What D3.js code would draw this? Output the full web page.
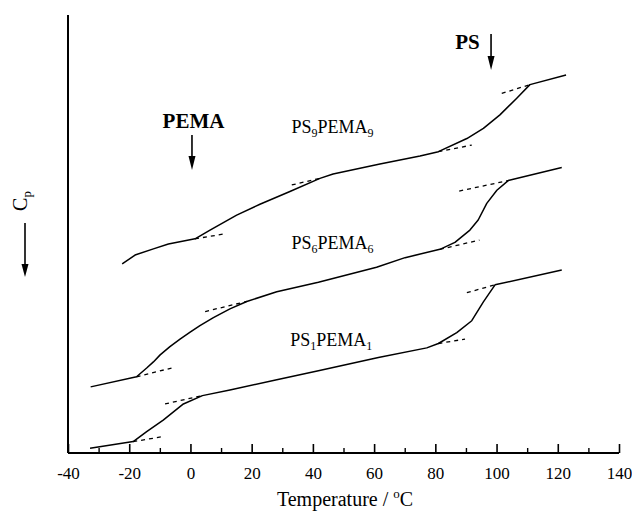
<!DOCTYPE html>
<html>
<head>
<meta charset="utf-8">
<script src="https://cdn.jsdelivr.net/npm/d3@7"></script>
<style>
  body { margin: 0; background: #fff; }
  svg { font-family: "Liberation Serif", "Times New Roman", serif; }
</style>
</head>
<body>
<div id="chart"></div>
<script>
// DSC traces, Cp in arbitrary units (0-100 across the plot height)
const ps9Temp = [-22.3, -18.1, -12.1, -7.2, 1.5, 6.4, 15.1, 22.7, 32.5, 42.3, 46.6, 61.9, 75.0, 81.0, 90.3, 95.7, 101.1, 106.6, 110.9, 122.7];
const ps9Cp   = [43.2, 45.2, 46.6, 47.7, 48.9, 50.9, 54.3, 56.8, 59.7, 62.7, 63.7, 66.0, 67.8, 68.8, 71.8, 74.1, 77.2, 81.0, 84.1, 86.3];

const ps6Temp = [-32.6, -17.6, -14.3, -12.1, -9.9, -6.7, -3.4, -0.1, 3.1, 7.5, 12.9, 18.4, 28.2, 41.8, 60.8, 70.1, 81.5, 86.4, 91.3, 94.0, 96.8, 100.1, 103.8, 121.3];
const ps6Cp   = [15.1, 17.4, 19.4, 20.8, 22.4, 24.3, 26.0, 27.6, 29.1, 30.9, 32.9, 34.6, 36.8, 39.0, 42.4, 44.6, 46.5, 48.1, 50.9, 53.2, 57.0, 60.0, 62.2, 65.2];

const ps1Temp = [-32.8, -18.7, -14.3, -8.9, -2.3, 3.9, 12.9, 28.2, 41.8, 61.4, 77.2, 81.0, 87.0, 91.9, 95.7, 99.5, 121.3];
const ps1Cp   = [1.1, 2.6, 4.9, 7.5, 11.2, 13.1, 14.4, 16.7, 18.8, 21.8, 24.0, 25.0, 27.5, 30.2, 34.5, 38.4, 41.8];

// dashed baseline extrapolations: [T1, Cp1, T2, Cp2]
const tangents = [
  [1.5, 48.9, 11.8, 50.1], [33.1, 61.2, 42.3, 62.7], [81.0, 68.8, 91.9, 70.3], [101.7, 82.1, 110.9, 84.1],
  [-17.6, 17.4, -5.0, 19.6], [4.8, 32.3, 18.4, 34.6], [81.5, 46.5, 94.4, 48.6], [87.8, 59.8, 103.8, 62.2],
  [-18.7, 2.6, -9.4, 3.7], [-8.3, 11.2, 3.9, 13.1], [81.0, 25.0, 89.7, 26.0], [90.3, 36.6, 99.5, 38.4]
];

const curveLabels = [
  { main: "PS", sub1: "9", mid: "PEMA", sub2: "9", t: 33.0, cp: 73.0 },
  { main: "PS", sub1: "6", mid: "PEMA", sub2: "6", t: 33.0, cp: 46.5 },
  { main: "PS", sub1: "1", mid: "PEMA", sub2: "1", t: 32.6, cp: 24.4 }
];

const xTicks = [-40, -20, 0, 20, 40, 60, 80, 100, 120, 140];
const xMinorTicks = [-30, -10, 10, 30, 50, 70, 90, 110, 130];

const width = 632, height = 513;
const margin = { top: 15, right: 13, bottom: 60, left: 68 };

const svg = d3.select("#chart").append("svg")
  .attr("width", width)
  .attr("height", height);

const x = d3.scaleLinear().domain([-40, 140]).range([margin.left, width - margin.right]);
const y = d3.scaleLinear().domain([0, 100]).range([height - margin.bottom, margin.top]);
const y0 = height - margin.bottom;

// axes
const xAxis = d3.axisBottom(x).tickValues(xTicks).tickSize(-9).tickPadding(14).tickFormat(d => String(d));
const gx = svg.append("g").attr("transform", `translate(0,${y0})`).call(xAxis);
gx.select(".domain").remove();
gx.selectAll(".tick line").attr("stroke", "#000").attr("stroke-width", 1.6);
gx.selectAll(".tick text").attr("font-size", 17).attr("fill", "#000")
  .attr("font-family", "Liberation Serif, Times New Roman, serif");

const xMinor = d3.axisBottom(x).tickValues(xMinorTicks).tickSize(-5).tickFormat("");
const gm = svg.append("g").attr("transform", `translate(0,${y0})`).call(xMinor);
gm.select(".domain").remove();
gm.selectAll(".tick line").attr("stroke", "#000").attr("stroke-width", 1.4);

svg.append("line")
  .attr("x1", x(-40)).attr("x2", x(140)).attr("y1", y0).attr("y2", y0)
  .attr("stroke", "#000").attr("stroke-width", 2);
svg.append("line")
  .attr("x1", x(-40)).attr("x2", x(-40)).attr("y1", y0).attr("y2", y(100))
  .attr("stroke", "#000").attr("stroke-width", 2);

// curves
const line = d3.line()
  .x(d => x(d[0]))
  .y(d => y(d[1]));

[[ps9Temp, ps9Cp], [ps6Temp, ps6Cp], [ps1Temp, ps1Cp]].forEach(([ts, cs]) => {
  svg.append("path")
    .datum(d3.zip(ts, cs))
    .attr("d", line)
    .attr("fill", "none")
    .attr("stroke", "#000")
    .attr("stroke-width", 1.5)
    .attr("stroke-linejoin", "round");
});

svg.selectAll(".tangent")
  .data(tangents)
  .join("line")
  .attr("class", "tangent")
  .attr("x1", d => x(d[0])).attr("y1", d => y(d[1]))
  .attr("x2", d => x(d[2])).attr("y2", d => y(d[3]))
  .attr("stroke", "#000")
  .attr("stroke-width", 1.3)
  .attr("stroke-dasharray", "4,4");

// curve labels
curveLabels.forEach(l => {
  const t = svg.append("text")
    .attr("x", x(l.t)).attr("y", y(l.cp))
    .attr("font-size", 18);
  t.append("tspan").text(l.main);
  t.append("tspan").text(l.sub1).attr("font-size", 12).attr("dy", 4);
  t.append("tspan").text(l.mid).attr("dy", -4);
  t.append("tspan").text(l.sub2).attr("font-size", 12).attr("dy", 4);
});

// transition markers
const arrows = [
  { label: "PEMA", t: 0.5, labelX: 1.0, top: 135, tip: 170, labelY: 128, anchor: "middle" },
  { label: "PS", t: 98.2, labelX: 94.5, top: 34, tip: 70, labelY: 49, anchor: "end" }
];
arrows.forEach(a => {
  svg.append("text")
    .attr("x", x(a.labelX)).attr("y", a.labelY)
    .attr("text-anchor", a.anchor)
    .attr("font-size", 21).attr("font-weight", "bold")
    .text(a.label);
  svg.append("line")
    .attr("x1", x(a.t)).attr("x2", x(a.t))
    .attr("y1", a.top).attr("y2", a.tip - 12)
    .attr("stroke", "#000").attr("stroke-width", 1.6);
  svg.append("path")
    .attr("d", `M${x(a.t) - 3.5},${a.tip - 14} L${x(a.t) + 3.5},${a.tip - 14} L${x(a.t)},${a.tip} Z`)
    .attr("fill", "#000");
});

// y label: rotated Cp with down arrow
const yl = svg.append("text")
  .attr("transform", `translate(27,201) rotate(-90)`)
  .attr("text-anchor", "middle")
  .attr("font-size", 20);
yl.append("tspan").text("C");
yl.append("tspan").text("p").attr("font-size", 13).attr("dy", 4);

svg.append("line")
  .attr("x1", 25).attr("x2", 25).attr("y1", 223).attr("y2", 266)
  .attr("stroke", "#000").attr("stroke-width", 1.6);
svg.append("path")
  .attr("d", "M21.5,264 L28.5,264 L25,277 Z")
  .attr("fill", "#000");

// x label
const xl = svg.append("text")
  .attr("x", 345).attr("y", 506)
  .attr("text-anchor", "middle")
  .attr("font-size", 20);
xl.append("tspan").text("Temperature / ");
xl.append("tspan").text("o").attr("font-size", 13).attr("dy", -8);
xl.append("tspan").text("C").attr("dy", 8);
</script>
</body>
</html>
